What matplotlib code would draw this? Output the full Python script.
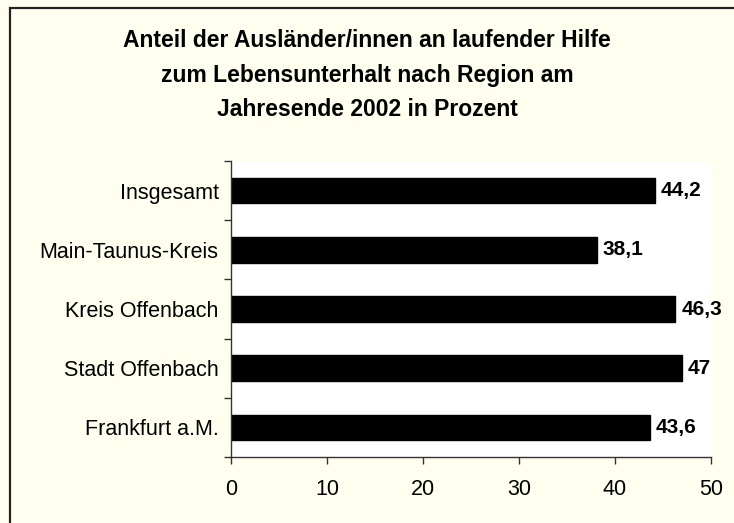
import matplotlib.pyplot as plt
import matplotlib.patches as mpatches
import numpy as np

plt.rcParams['font.family'] = ['Liberation Sans', 'DejaVu Sans']

# data, bottom to top
regions = ["Frankfurt a.M.", "Stadt Offenbach", "Kreis Offenbach", "Main-Taunus-Kreis", "Insgesamt"]
values = [43.6, 47.0, 46.3, 38.1, 44.2]
value_labels = ["43,6", "47", "46,3", "38,1", "44,2"]
xticks = [0, 10, 20, 30, 40, 50]

bg = "#FFFFF0"

fig = plt.figure(figsize=(7.34, 5.23), dpi=100)
fig.patch.set_facecolor(bg)

# outer frame (right and bottom edges fall outside the picture)
frame = mpatches.Rectangle((10 / 734, -0.05), 1.2, 1 - 8 / 523 + 0.05,
                           transform=fig.transFigure, fill=False,
                           edgecolor="#222222", linewidth=1.6)
fig.patches.append(frame)

ax = fig.add_axes([231 / 734, 1 - 457 / 523, 480 / 734, 296 / 523])
ax.set_facecolor("white")

y = np.arange(len(regions))
ax.barh(y, values, height=0.43, color="black", edgecolor="black")

for yi, v, lab in zip(y, values, value_labels):
    ax.text(v + 0.6, yi, lab, va="center", ha="left",
            fontsize=15, fontweight="bold")

ax.set_xlim(0, 50)
ax.set_ylim(-0.5, len(regions) - 0.5)
ax.set_xticks(xticks)
ax.set_xticklabels([str(t) for t in xticks], fontsize=15.5)
ax.set_yticks(y)
ax.set_yticklabels(regions, fontsize=15.5)
ax.tick_params(axis="y", length=0, pad=9)
ax.set_yticks(np.arange(-0.5, len(regions), 1.0), minor=True)
ax.tick_params(axis="y", which="minor", length=5, width=1, color="#333333")
ax.tick_params(axis="x", length=5, width=1, color="#333333", pad=10.5)

for s in ["top", "right"]:
    ax.spines[s].set_visible(False)
for s in ["left", "bottom"]:
    ax.spines[s].set_color("#333333")
    ax.spines[s].set_linewidth(1)

fig.text(0.5, 1 - 75 / 523,
         "Anteil der Ausländer/innen an laufender Hilfe\n"
         "zum Lebensunterhalt nach Region am\n"
         "Jahresende 2002 in Prozent",
         ha="center", va="center", fontsize=16.5, fontweight="bold",
         linespacing=1.65)

fig.savefig("out.png", dpi=100, facecolor=bg)
